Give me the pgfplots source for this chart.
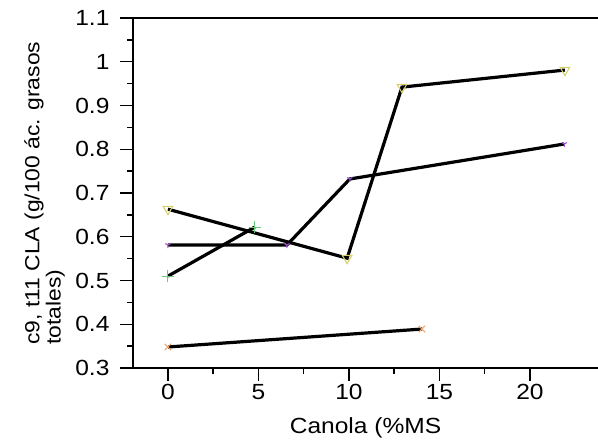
\documentclass[border=0pt]{standalone}
\usepackage{fontspec}
\setmainfont{Liberation Sans}[FakeStretch=1.12]
\usepackage{pgfplots}
\usepackage{pgfplotstable}
\pgfplotsset{compat=1.18}
\usetikzlibrary{plotmarks}
\definecolor{cyel}{HTML}{D6CF6E}
\definecolor{cpur}{HTML}{A24FD6}
\definecolor{cgrn}{HTML}{6CC77A}
\definecolor{cora}{HTML}{EBA26E}
\pgfplotstableread{
x y
0 0.663
9.9 0.551
12.93 0.942
21.93 0.981
}\yel
\pgfplotstableread{
x y
0 0.581
6.57 0.581
10.05 0.732
21.9 0.812
}\pur
\pgfplotstableread{
x y
0 0.510
4.8 0.622
}\grn
\pgfplotstableread{
x y
0 0.348
14.03 0.389
}\ora
\begin{document}
\begin{tikzpicture}
\begin{axis}[name=ax,
  scale only axis, width=465bp, height=350bp,
  xmin=-1.93, xmax=23.76, ymin=0.3, ymax=1.1,
  axis lines=left, axis line style={-, line width=1.4bp},
  tick align=outside,
  major tick length=13bp, minor tick length=6bp,
  tick style={line width=1.4bp, black},
  xtick={0,5,10,15,20}, ytick={0.3,0.4,...,1.1},
  minor tick num=1,
  /pgf/number format/assume math mode=true,
  yticklabel style={/pgf/number format/fixed, /pgf/number format/precision=1, xshift=-7bp},
  every tick label/.append style={font=\fontsize{22}{26}\selectfont},
  xlabel={Canola (\%MS},
  ylabel={c9, t11 CLA (g/100 ác. grasos\\totales)},
  x label style={font=\fontsize{22}{26}\selectfont, at={(axis description cs:0.5,0)}, anchor=center, yshift=-60bp},
  y label style={font=\fontsize{20.5}{21.5}\selectfont, align=left, inner sep=0pt, rotate=0,
     at={(axis description cs:-0.146,0.066)}, anchor=south west},
  clip=false,
]
\addplot[only marks, mark=triangle, mark size=5.5bp, mark options={rotate=180, draw=cyel, line width=1.1bp, fill=none}] table {\yel};
\addplot[only marks, mark=Mercedes star flipped, mark size=3bp, mark options={draw=cpur, line width=1.1bp}] table {\pur};
\addplot[only marks, mark=+, mark size=6bp, mark options={draw=cgrn, line width=1bp}] table {\grn};
\addplot[only marks, mark=x, mark size=4.5bp, mark options={draw=cora, line width=1.1bp}] table {\ora};
\addplot[black, line width=3.2bp, mark=none] table {\yel};
\addplot[black, line width=3.2bp, mark=none] table {\pur};
\addplot[black, line width=3.2bp, mark=none] table {\grn};
\addplot[black, line width=3.2bp, mark=none] table {\ora};
\end{axis}
\draw[line width=1.4bp] (ax.north west) -- (ax.north east);
\pgfresetboundingbox
\path[use as bounding box] ([shift={(-133bp,-75bp)}]ax.south west) rectangle ([shift={(0bp,18bp)}]ax.north east);
\end{tikzpicture}
\end{document}
